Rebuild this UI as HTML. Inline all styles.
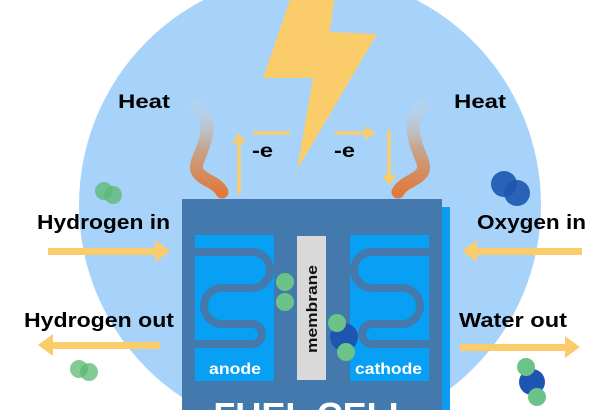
<!DOCTYPE html>
<html><head><meta charset="utf-8"><style>
html,body{margin:0;padding:0;background:#fff;width:615px;height:410px;overflow:hidden}
svg{display:block}
text{font-family:"Liberation Sans",Arial,sans-serif;font-weight:bold}
</style></head><body>
<svg width="615" height="410" viewBox="0 0 615 410" xmlns="http://www.w3.org/2000/svg">
<defs>
<linearGradient id="sm" x1="0" y1="0" x2="0" y2="1">
<stop offset="0" stop-color="#c9d3de" stop-opacity="0.3"/>
<stop offset="0.5" stop-color="#c6a58e"/>
<stop offset="1" stop-color="#e07a3c"/>
</linearGradient>
<marker id="ah" markerWidth="4" markerHeight="4" refX="2" refY="2" orient="auto" markerUnits="strokeWidth"><path d="M0,0 L3,2 L0,4 z" fill="#fbcc6a"/></marker>
</defs>
<circle cx="310" cy="205" r="231" fill="#a7d3fb"/>
<polygon points="290,0 334,0 330,32 377,34 297,170 313,78 263,78" fill="#fbcc6a"/>
<path d="M196,105 C214,120 206,140 198,160 C190,180 215,178 222,192" stroke="url(#sm)" stroke-width="13" fill="none" stroke-linecap="round"/>
<path d="M424,105 C406,120 414,140 422,160 C430,180 405,178 398,192" stroke="url(#sm)" stroke-width="13" fill="none" stroke-linecap="round"/>
<text x="118" y="108" font-size="19" textLength="52" lengthAdjust="spacingAndGlyphs">Heat</text>
<text x="454" y="108" font-size="19" textLength="52" lengthAdjust="spacingAndGlyphs">Heat</text>
<line x1="239" y1="194" x2="239" y2="136" stroke="#fbcc6a" stroke-width="3.5" marker-end="url(#ah)"/>
<line x1="253" y1="133" x2="290" y2="133" stroke="#fbcc6a" stroke-width="3.5"/>
<line x1="335" y1="133" x2="372" y2="133" stroke="#fbcc6a" stroke-width="3.5" marker-end="url(#ah)"/>
<line x1="389" y1="130" x2="389" y2="182" stroke="#fbcc6a" stroke-width="3.5" marker-end="url(#ah)"/>
<text x="252" y="157" font-size="19" textLength="21" lengthAdjust="spacingAndGlyphs">-e</text>
<text x="334" y="157" font-size="19" textLength="21" lengthAdjust="spacingAndGlyphs">-e</text>
<rect x="442" y="207" width="8" height="203" fill="#0d9cf2"/>
<rect x="182" y="199" width="260" height="211" fill="#4479ad"/>
<rect x="195" y="235" width="79" height="146" fill="#08a0f4"/>
<rect x="350" y="235" width="79" height="146" fill="#08a0f4"/>
<rect x="297" y="236" width="29" height="144" fill="#d9d9d9"/>
<path d="M195,252 H252 A18,18 0 0 1 252,288 H222 A18,18 0 0 0 222,324 H252 A10,10 0 0 1 252,344 H195" stroke="#4479ad" stroke-width="8" fill="none"/>
<path d="M429,252 H372 A18,18 0 0 0 372,288 H402 A18,18 0 0 1 402,324 H372 A10,10 0 0 0 372,344 H429" stroke="#4479ad" stroke-width="8" fill="none"/>
<rect x="195" y="355" width="79" height="26" fill="#08a0f4"/>
<rect x="350" y="355" width="79" height="26" fill="#08a0f4"/>
<text x="209" y="374" font-size="16" fill="#fff" textLength="52" lengthAdjust="spacingAndGlyphs">anode</text>
<text x="355" y="374" font-size="16" fill="#fff" textLength="67" lengthAdjust="spacingAndGlyphs">cathode</text>
<text transform="translate(317,309) rotate(-90)" font-size="15" text-anchor="middle" fill="#111" textLength="88" lengthAdjust="spacingAndGlyphs">membrane</text>
<circle cx="285" cy="282" r="9" fill="#6cc38a"/>
<circle cx="285" cy="302" r="9" fill="#6cc38a"/>
<circle cx="344" cy="337" r="14" fill="#1d55b0"/>
<circle cx="337" cy="323" r="9" fill="#6cc38a"/>
<circle cx="346" cy="352" r="9" fill="#6cc38a"/>
<text x="312" y="428" font-size="36" fill="#fff" text-anchor="middle">FUEL CELL</text>
<text x="37" y="229" font-size="20" textLength="133" lengthAdjust="spacingAndGlyphs">Hydrogen in</text>
<text x="24" y="327" font-size="20" textLength="150" lengthAdjust="spacingAndGlyphs">Hydrogen out</text>
<text x="477" y="229" font-size="20" textLength="109" lengthAdjust="spacingAndGlyphs">Oxygen in</text>
<text x="459" y="327" font-size="20" textLength="108" lengthAdjust="spacingAndGlyphs">Water out</text>
<g fill="#fbcc6a">
<rect x="48" y="248" width="110" height="7"/><polygon points="155,240 170,251 155,262"/>
<rect x="50" y="342" width="110" height="7"/><polygon points="53,334 38,345 53,356"/>
<rect x="475" y="248" width="107" height="7"/><polygon points="477,240 462,251 477,262"/>
<rect x="460" y="344" width="108" height="7"/><polygon points="565,336 580,347 565,358"/>
</g>
<circle cx="104" cy="191" r="9" fill="#5cb870" opacity="0.75"/>
<circle cx="113" cy="195" r="9" fill="#5cb870" opacity="0.75"/>
<circle cx="79" cy="369" r="9" fill="#5cb870" opacity="0.75"/>
<circle cx="89" cy="372" r="9" fill="#5cb870" opacity="0.75"/>
<circle cx="504" cy="184" r="13" fill="#1d55b0" opacity="0.9"/>
<circle cx="517" cy="193" r="13" fill="#1d55b0" opacity="0.9"/>
<circle cx="532" cy="382" r="13" fill="#1d55b0"/>
<circle cx="526" cy="367" r="9" fill="#6cc38a"/>
<circle cx="537" cy="397" r="9" fill="#6cc38a"/>
</svg>
</body></html>
